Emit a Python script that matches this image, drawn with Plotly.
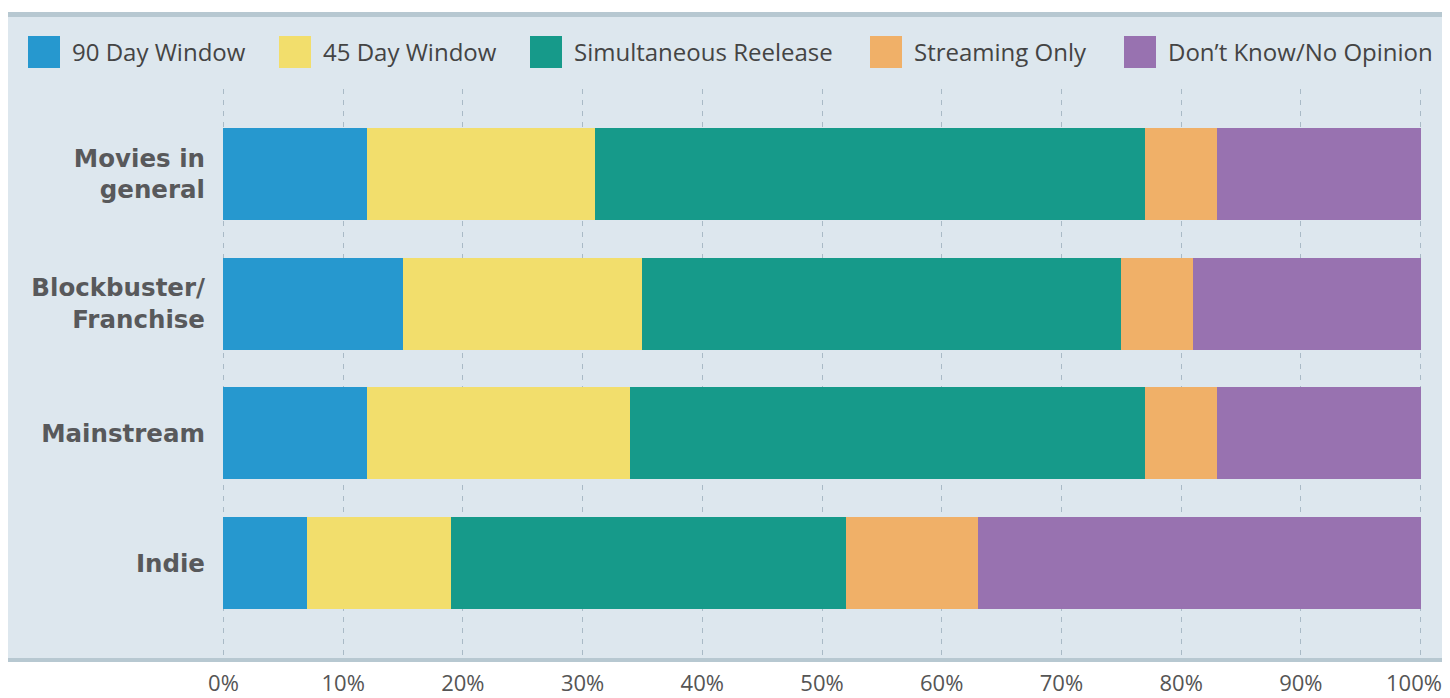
import plotly.graph_objects as go

categories = ["Movies in<br>general", "Blockbuster/<br>Franchise", "Mainstream", "Indie"]
series_names = ["90 Day Window", "45 Day Window", "Simultaneous Reelease", "Streaming Only", "Don\u2019t Know/No Opinion"]
day90 = [12, 15, 12, 7]
day45 = [19, 20, 22, 12]
simultaneous = [46, 40, 43, 33]
streaming = [6, 6, 6, 11]
dont_know = [17, 19, 17, 37]
colors = ["#2698cf", "#f2de6c", "#169a8a", "#f0b068", "#9872b0"]
x_tick_values = [0, 10, 20, 30, 40, 50, 60, 70, 80, 90, 100]
x_tick_labels = ["0%", "10%", "20%", "30%", "40%", "50%", "60%", "70%", "80%", "90%", "100%"]

OFF = 8  # page body margin
W, H = 1450 - OFF, 698 - OFF
L, R, T, B = 222 - OFF, 28, 89 - OFF, 38
PW, PH = W - L - R, H - T - B

def px_x(x):
    return (x - OFF - L) / PW

def px_y(y):
    return (H - B - (y - OFF)) / PH

fig = go.Figure()
for name, vals, c in zip(series_names, [day90, day45, simultaneous, streaming, dont_know], colors):
    fig.add_trace(go.Bar(
        y=categories, x=vals, name=name, orientation="h",
        marker=dict(color=c, line=dict(width=0)), showlegend=False,
    ))

shapes = []
annotations = []
bg = "#dde7ee"
border = "#b7c8d1"
shapes.append(dict(type="rect", xref="paper", yref="paper", layer="below",
                   x0=px_x(7), x1=px_x(1452), y0=px_y(662), y1=px_y(12),
                   fillcolor=bg, line=dict(width=0)))
shapes.append(dict(type="rect", xref="paper", yref="paper", layer="below",
                   x0=px_x(7), x1=px_x(1452), y0=px_y(17), y1=px_y(12),
                   fillcolor=border, line=dict(width=0)))
shapes.append(dict(type="rect", xref="paper", yref="paper", layer="below",
                   x0=px_x(7), x1=px_x(1452), y0=px_y(662), y1=px_y(658),
                   fillcolor=border, line=dict(width=0)))

legend_sq_x = [28, 279, 530, 870, 1124]
for name, c, sx in zip(series_names, colors, legend_sq_x):
    shapes.append(dict(type="rect", xref="paper", yref="paper",
                       x0=px_x(sx), x1=px_x(sx + 32), y0=px_y(68), y1=px_y(36),
                       fillcolor=c, line=dict(width=0)))
    annotations.append(dict(text=name, xref="paper", yref="paper",
                            x=px_x(sx + 42), y=px_y(52), xanchor="left", yanchor="middle",
                            showarrow=False, font=dict(size=24, color="#444444", family="Open Sans")))

tick_font = dict(size=22, color="#555555", family="Open Sans")
# last tick label kept inside the page edge (as in the reference), placed at x=100 on the axis
annotations.append(dict(text=x_tick_labels[-1], xref="x", yref="paper",
                        x=x_tick_values[-1], xshift=23, xanchor="right",
                        y=px_y(682), yanchor="middle", showarrow=False, font=tick_font))

fig.update_layout(
    width=W, height=H,
    barmode="stack", bargap=0.292,
    margin=dict(l=L, r=R, t=T, b=B, pad=0),
    paper_bgcolor="white", plot_bgcolor="rgba(0,0,0,0)",
    font=dict(family="Open Sans", color="#555555"),
    shapes=shapes, annotations=annotations,
    showlegend=False,
    xaxis=dict(range=[-0.12, 100.12], tickmode="array", tickvals=x_tick_values,
               ticktext=x_tick_labels[:-1] + [""],
               showgrid=True, gridcolor="#a9bac6", gridwidth=1, griddash="5px,6px",
               zeroline=False, showline=False, ticks="", automargin=False,
               tickfont=tick_font, ticklabelstandoff=8),
    yaxis=dict(range=[3.746, -0.654], showgrid=False, zeroline=False, ticks="", automargin=False,
               tickfont=dict(size=24.5, color="#58595b", family="DejaVu Sans", weight="bold"),
               ticklabelstandoff=16),
)

fig.write_html("out.html")
